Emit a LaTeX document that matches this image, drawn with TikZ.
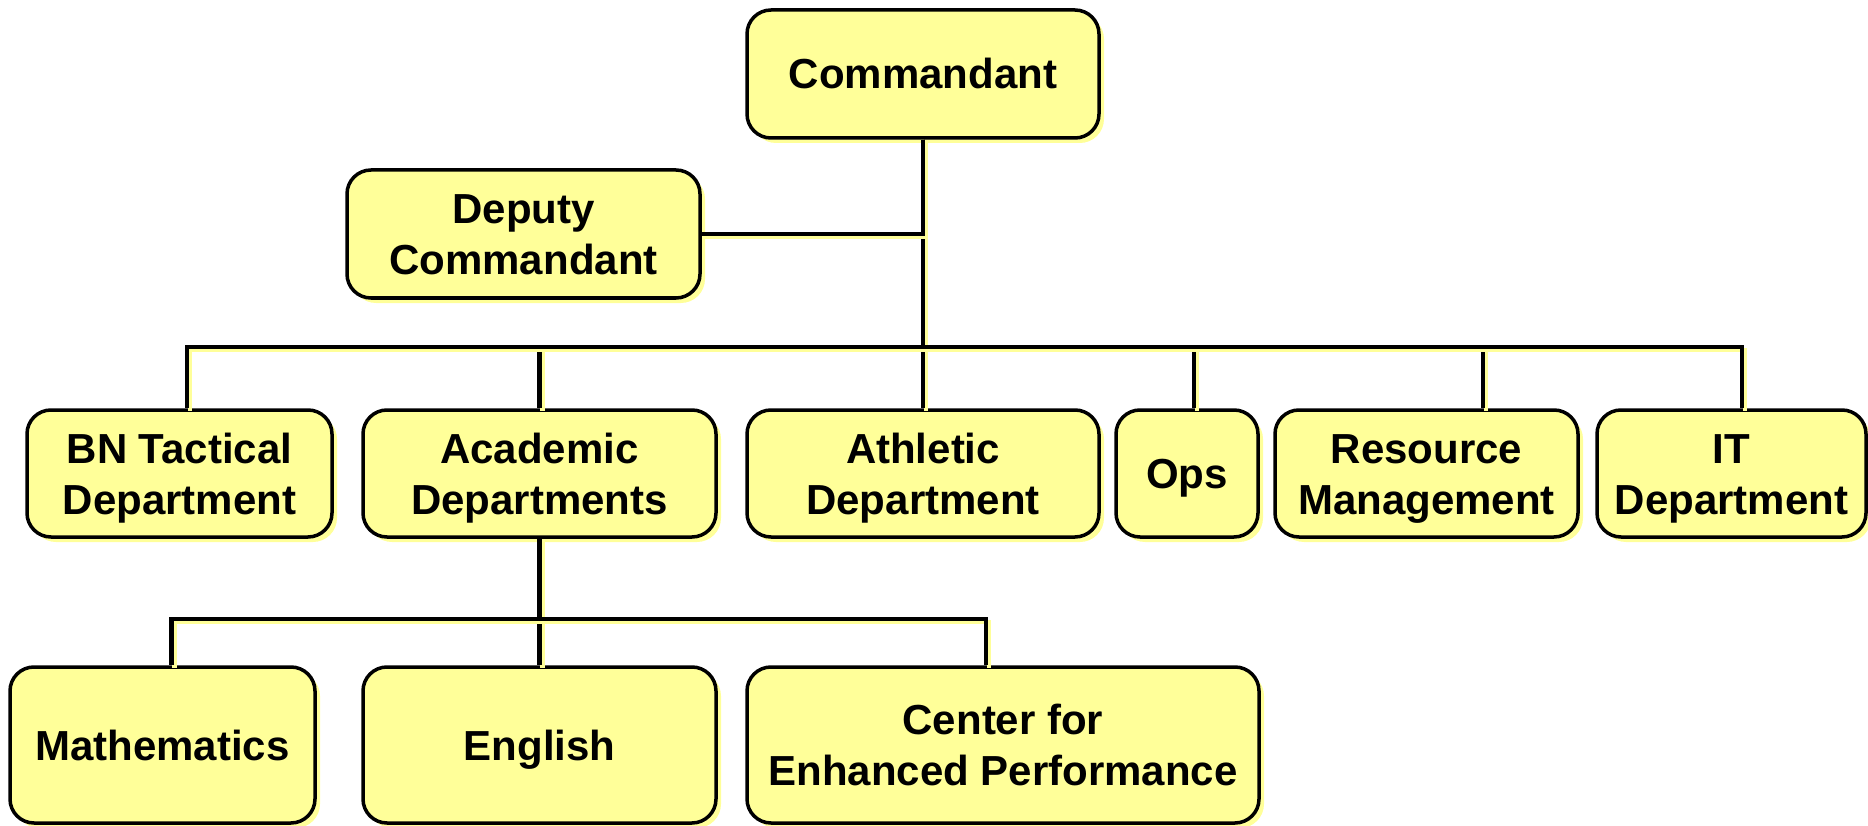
\documentclass[tikz,border=0pt]{standalone}
\usepackage{fontspec}
\setmainfont{Liberation Sans}
\usetikzlibrary{shadows}
\definecolor{boxfill}{HTML}{FFFF99}
\definecolor{shadecol}{HTML}{FFFF99}
\newcommand\capline[1]{\raisebox{0pt}[30pt][0pt]{#1}}
\newcommand\orgconn[1]{\draw[connshadow] #1; \draw[connline] #1;}
\tikzset{
  orgbox/.style={draw=black, line width=3.5pt, fill=boxfill, rounded corners=24pt,
    align=center, font=\fontsize{42}{51}\selectfont\bfseries, inner sep=0pt,
    drop shadow={shadow xshift=5pt, shadow yshift=-5pt, fill=shadecol, opacity=1}},
  connline/.style={line width=4.5pt, draw=black},
  connshadow/.style={line width=4.5pt, draw=shadecol, transform canvas={shift={(3pt,-3pt)}}},
}
\begin{document}
\begin{tikzpicture}[x=1pt, y=-1pt]
\useasboundingbox (0,0) rectangle (1868,826);
% boxes
\node[orgbox, minimum width=352pt, minimum height=128pt] (cmd) at (923,74) {\capline{Commandant}};
\node[orgbox, minimum width=353pt, minimum height=128pt] (dep) at (523.5,234) {\capline{Deputy}\\\capline{Commandant}};
\node[orgbox, minimum width=305pt, minimum height=127pt] (bn) at (179.5,473.5) {\capline{BN Tactical}\\\capline{Department}};
\node[orgbox, minimum width=353pt, minimum height=127pt] (aca) at (539.5,473.5) {\capline{Academic}\\\capline{Departments}};
\node[orgbox, minimum width=352pt, minimum height=127pt] (ath) at (923,473.5) {\capline{Athletic}\\\capline{Department}};
\node[orgbox, minimum width=142pt, minimum height=127pt] (ops) at (1187,473.5) {\capline{Ops}};
\node[orgbox, minimum width=303pt, minimum height=127pt] (res) at (1426.5,473.5) {\capline{Resource}\\\capline{Management}};
\node[orgbox, minimum width=269pt, minimum height=127pt] (it) at (1731.5,473.5) {\capline{IT}\\\capline{Department}};
\node[orgbox, minimum width=305pt, minimum height=156pt] (math) at (162.5,745) {\capline{Mathematics}};
\node[orgbox, minimum width=353pt, minimum height=156pt] (eng) at (539.5,745) {\capline{English}};
\node[orgbox, minimum width=512pt, minimum height=156pt] (cen) at (1003,745) {\capline{Center for}\\\capline{Enhanced Performance}};
% bus levels
\coordinate (bus) at (0,347);
\coordinate (subbus) at (0,619);
% connectors from Commandant
\orgconn{(cmd.south) -- (ath.north)}
\orgconn{(cmd.south) -- (cmd.south |- bus) -| (aca.north)}
\orgconn{(cmd.south) -- (cmd.south |- bus) -| ([xshift=7pt]ops.north)}
\orgconn{(cmd.south) -- (cmd.south |- bus) -| ([xshift=56.5pt]res.north)}
\orgconn{(cmd.south) -- (cmd.south |- bus) -| ([xshift=7.5pt]bn.north)}
\orgconn{(cmd.south) -- (cmd.south |- bus) -| ([xshift=10.5pt]it.north)}
\orgconn{(cmd.south) |- (dep.east)}
% connectors from Academic Departments
\orgconn{(aca.south) -- (eng.north)}
\orgconn{(aca.south) -- (aca.south |- subbus) -| ([xshift=9pt]math.north)}
\orgconn{(aca.south) -- (aca.south |- subbus) -| ([xshift=-17pt]cen.north)}
\end{tikzpicture}
\end{document}
